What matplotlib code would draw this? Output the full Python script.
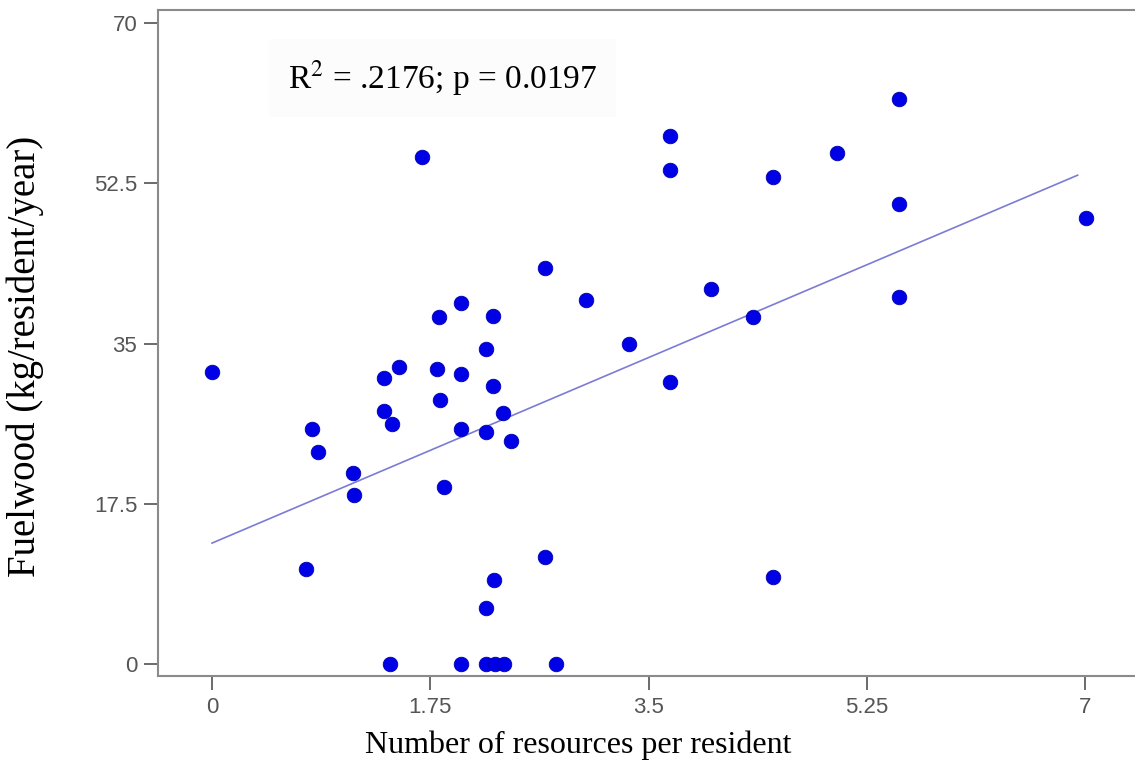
import matplotlib
matplotlib.use("Agg")
import matplotlib.pyplot as plt

# values
resources = [
    0.00, 0.75, 0.80, 0.85, 1.13, 1.14, 1.38, 1.38, 1.44, 1.50, 1.43,
    1.68, 1.80, 1.82, 1.83, 1.86, 2.00, 2.00, 2.00, 2.00, 2.20, 2.20,
    2.20, 2.25, 2.25, 2.26, 2.33, 2.40, 2.20, 2.27, 2.34, 2.67, 2.67,
    2.76, 3.00, 3.34, 3.67, 3.67, 3.67, 4.00, 4.34, 4.50, 4.50, 5.01,
    5.51, 5.51, 5.51, 7.01,
]
fuelwood = [
    31.9, 10.4, 25.7, 23.2, 20.9, 18.5, 31.2, 27.6, 26.2, 32.4, 0.0,
    55.4, 32.2, 37.9, 28.8, 19.3, 39.4, 31.7, 25.7, 0.0, 34.4, 25.3,
    6.1, 38.0, 30.4, 9.2, 27.4, 24.4, 0.0, 0.0, 0.0, 43.2, 11.7,
    0.0, 39.8, 34.9, 57.7, 53.9, 30.8, 41.0, 37.9, 53.2, 9.5, 55.8,
    61.7, 50.2, 40.1, 48.7,
]
fit_intercept = 13.2
fit_slope = 5.79
fit_range = [0.0, 6.94]

xticks = [0, 1.75, 3.5, 5.25, 7]
xtick_labels = ["0", "1.75", "3.5", "5.25", "7"]
yticks = [0, 17.5, 35, 52.5, 70]
ytick_labels = ["0", "17.5", "35", "52.5", "70"]

plt.rcParams["mathtext.fontset"] = "stix"
serif = ["Liberation Serif", "DejaVu Serif"]

fig = plt.figure(figsize=(11.35, 7.72), dpi=100)
ax = fig.add_axes([0.1392, 0.1244, 0.8608, 0.8626])

ax.scatter(resources, fuelwood, s=110, color="#0000e6", edgecolors="#0000b0",
           linewidths=0.6, zorder=3)

fit_y = [fit_intercept + fit_slope * x for x in fit_range]
ax.plot(fit_range, fit_y, color="#7b7bd6", linewidth=1.2, zorder=2)

ax.set_xlim(-0.433, 7.40)
ax.set_ylim(-1.31, 71.42)
ax.set_xticks(xticks)
ax.set_xticklabels(xtick_labels)
ax.set_yticks(yticks)
ax.set_yticklabels(ytick_labels)

for side in ["left", "bottom", "top"]:
    ax.spines[side].set_color("#8a8a8a")
    ax.spines[side].set_linewidth(1.5)
ax.spines["right"].set_visible(False)

ax.tick_params(direction="out", length=10, width=1.4, color="#6a6a6a",
               labelcolor="#555555", labelsize=16, pad=5)
for lab in ax.get_xticklabels() + ax.get_yticklabels():
    lab.set_family(["Liberation Sans", "DejaVu Sans"])

ax.set_xlabel("Number of resources per resident", family=serif, fontsize=23)
ax.xaxis.set_label_coords(0.43, -0.082)
ax.set_ylabel("Fuelwood (kg/resident/year)", family=serif, fontsize=28)
ax.yaxis.set_label_coords(-0.117, 0.48)

ax.text(0.133, 0.898, "R$^2$ = .2176; p = 0.0197", transform=ax.transAxes,
        family=serif, fontsize=24, va="center", ha="left",
        bbox=dict(facecolor="#fcfcfc", edgecolor="none", pad=14))

fig.savefig("out.png", dpi=100, facecolor="white")
